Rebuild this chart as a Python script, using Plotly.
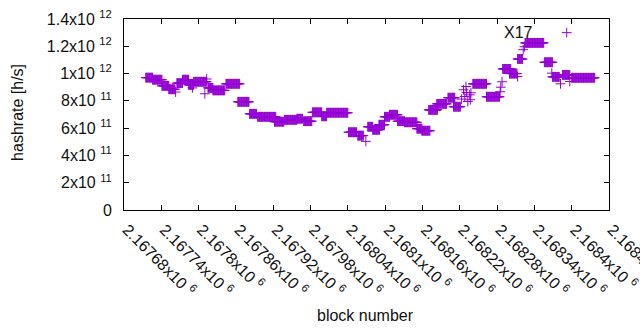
import numpy as np
import plotly.graph_objects as go

# Runs of consecutive blocks sharing (roughly) the same hashrate estimate
seg_start = [2167715, 2167726, 2167741, 2167752, 2167765, 2167774, 2167784, 2167792,
             2167815, 2167823, 2167844, 2167863, 2167882, 2167895, 2167922, 2167938,
             2167958, 2167969, 2167983, 2167998, 2168006, 2168041, 2168056, 2168072,
             2168080, 2168090, 2168099, 2168107, 2168120, 2168131, 2168151, 2168159,
             2168170, 2168183, 2168201, 2168210, 2168241, 2168263, 2168289, 2168300,
             2168313, 2168325, 2168356, 2168369, 2168385, 2168400]
seg_end = [2167726, 2167741, 2167752, 2167762, 2167774, 2167784, 2167792, 2167813,
           2167823, 2167842, 2167866, 2167881, 2167893, 2167924, 2167937, 2167958,
           2167967, 2167982, 2167998, 2168006, 2168040, 2168054, 2168065, 2168080,
           2168091, 2168099, 2168107, 2168120, 2168131, 2168151, 2168159, 2168172,
           2168184, 2168199, 2168212, 2168221, 2168263, 2168284, 2168302, 2168312,
           2168321, 2168355, 2168369, 2168380, 2168397, 2168437]
seg_value = [0.970e12, 0.955e12, 0.910e12, 0.885e12, 0.930e12, 0.955e12, 0.917e12, 0.940e12,
             0.895e12, 0.877e12, 0.925e12, 0.793e12, 0.705e12, 0.683e12, 0.647e12, 0.661e12,
             0.669e12, 0.651e12, 0.716e12, 0.687e12, 0.713e12, 0.570e12, 0.545e12, 0.610e12,
             0.588e12, 0.625e12, 0.683e12, 0.698e12, 0.651e12, 0.643e12, 0.596e12, 0.581e12,
             0.734e12, 0.778e12, 0.823e12, 0.757e12, 0.925e12, 0.830e12, 1.034e12, 1.000e12,
             1.107e12, 1.225e12, 1.083e12, 0.976e12, 0.990e12, 0.969e12]

# Isolated blocks
single_block = [2167763, 2167790, 2167813, 2167810, 2168069, 2168223, 2168226, 2168228,
                2168230, 2168231, 2168233, 2168236, 2168237, 2168238, 2168285, 2168286,
                2168288, 2168313, 2168322, 2168324, 2168368, 2168382, 2168392, 2168397]
single_value = [0.865e12, 0.895e12, 0.960e12, 0.852e12, 0.503e12, 0.813e12, 0.881e12, 0.832e12,
                0.905e12, 0.861e12, 0.795e12, 0.844e12, 0.808e12, 0.859e12, 0.867e12, 0.900e12,
                0.940e12, 0.978e12, 1.175e12, 1.197e12, 1.003e12, 0.925e12, 1.300e12, 0.942e12]

x_tick_values = [2167680, 2167740, 2167800, 2167860, 2167920, 2167980, 2168040,
                 2168100, 2168160, 2168220, 2168280, 2168340, 2168400, 2168460]
x_tick_labels = ["2.16768", "2.16774", "2.1678", "2.16786", "2.16792", "2.16798", "2.16804",
                 "2.1681", "2.16816", "2.16822", "2.16828", "2.16834", "2.1684", "2.16846"]
y_tick_values = [0, 0.2e12, 0.4e12, 0.6e12, 0.8e12, 1.0e12, 1.2e12, 1.4e12]
y_tick_mant = ["0", "2", "4", "6", "8", "1", "1.2", "1.4"]
y_tick_exp = ["", "11", "11", "11", "11", "12", "12", "12"]

label_text = "X17"
label_x = 2168315
label_y = 1.30e12

xs, ys = [], []
for s, e, v in zip(seg_start, seg_end, seg_value):
    for b in range(s, e + 1):
        xs.append(b)
        ys.append(v)
xs += single_block
ys += single_value

FONT = "Liberation Sans"
FS = 16
TXT = "#111111"
COLOR = "#9400D3"

fig = go.Figure()
fig.add_trace(go.Scatter(
    x=xs, y=ys, mode="markers",
    marker=dict(symbol="cross-thin", size=7, color=COLOR,
                line=dict(color=COLOR, width=1)),
    showlegend=False, hoverinfo="skip"))

y_text = [m if not ex else f"{m}x10 <sup>{ex}</sup>" for m, ex in zip(y_tick_mant, y_tick_exp)]
x_text = [f"\u00a0{t}x10 <sup>6</sup>" for t in x_tick_labels]

fig.update_xaxes(range=[x_tick_values[0], x_tick_values[-1] + 0.01], tickmode="array",
                 tickvals=x_tick_values, ticktext=x_text, tickangle=45,
                 ticks="inside", ticklen=5, tickcolor="black", showline=True,
                 linecolor="black", linewidth=1, mirror="ticks", showgrid=False,
                 zeroline=False, automargin=False, ticklabeloverflow="allow",
                 tickfont=dict(family=FONT, size=FS, color=TXT))
fig.update_yaxes(range=[0, 1.4e12], tickmode="array", tickvals=y_tick_values,
                 ticktext=y_text, ticks="inside", ticklen=5, tickcolor="black",
                 showline=True, linecolor="black", linewidth=1, mirror="ticks",
                 showgrid=False, zeroline=False, ticklabelstandoff=8, automargin=False,
                 ticklabeloverflow="allow",
                 tickfont=dict(family=FONT, size=FS, color=TXT))

fig.add_annotation(x=label_x, y=label_y, text=label_text, showarrow=False,
                   font=dict(family=FONT, size=FS, color=TXT))
fig.add_annotation(xref="paper", yref="paper", x=0.497, y=-0.551, text="block number",
                   showarrow=False, xanchor="center", yanchor="middle",
                   font=dict(family=FONT, size=FS, color=TXT))
fig.add_annotation(xref="paper", yref="paper", x=-0.22, y=0.51, text="hashrate [h/s]",
                   showarrow=False, textangle=-90, xanchor="center", yanchor="middle",
                   font=dict(family=FONT, size=FS, color=TXT))

fig.update_layout(width=640, height=330, margin=dict(l=124, r=31, t=19, b=120, pad=0),
                  plot_bgcolor="white", paper_bgcolor="white",
                  font=dict(family=FONT, size=FS, color=TXT))

fig.write_html("out.html", config={"displayModeBar": False},
               post_script="document.body.style.margin='0';document.body.style.overflow='hidden';")
